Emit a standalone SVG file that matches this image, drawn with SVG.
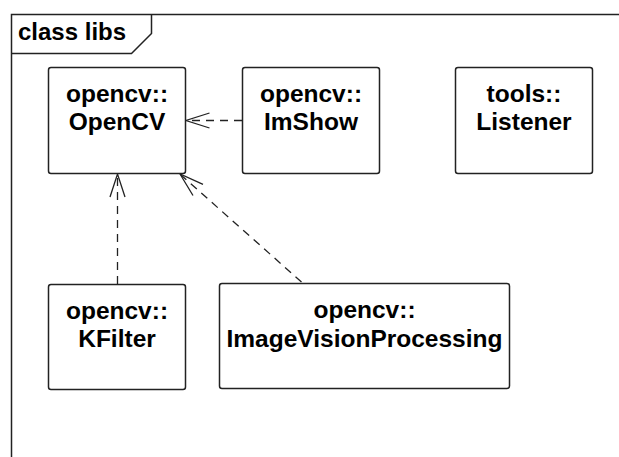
<svg xmlns="http://www.w3.org/2000/svg" width="619" height="457" viewBox="0 0 619 457">
<style>
.box{fill:#fff;stroke:#222;stroke-width:1.5}
.t{font-family:"Liberation Sans",Arial,sans-serif;font-weight:bold;font-size:24.5px;fill:#000;text-anchor:middle}
.dash{fill:none;stroke:#222;stroke-width:1.3;stroke-dasharray:8,6}
.head{fill:none;stroke:#222;stroke-width:1.3}
.frame{fill:none;stroke:#222;stroke-width:1.5}
</style>
<rect width="619" height="457" fill="#fff"/>
<g id="frame">
<path class="frame" d="M11.5,460 L11.5,14.5 L625,14.5"/>
<path class="frame" d="M11.5,53.5 L131.5,53.5 L151.5,33.5 L151.5,14.5"/>
<text x="18" y="40" font-family="'Liberation Sans',Arial,sans-serif" font-weight="bold" font-size="24" fill="#000">class libs</text>
</g>
<g id="connectors">
<path class="dash" d="M242,120.5 L187,120.5"/>
<path class="head" d="M209.5,113 L186,120.5 L209.5,128"/>
<path class="dash" d="M117.5,284 L117.5,175"/>
<path class="head" d="M110,197 L117.5,174 L125,197"/>
<path class="dash" d="M301.5,282 L181,175"/>
<path class="head" d="M193,195.5 L180,174 L203,184.3"/>
</g>
<g id="OpenCV">
<rect class="box" x="48.5" y="67.5" width="137" height="106" rx="2.5"/>
<text class="t" x="117" y="102">opencv::</text>
<text class="t" x="117" y="130">OpenCV</text>
</g>
<g id="ImShow">
<rect class="box" x="242.5" y="67.5" width="137" height="106" rx="2.5"/>
<text class="t" x="311" y="102">opencv::</text>
<text class="t" x="311" y="130">ImShow</text>
</g>
<g id="Listener">
<rect class="box" x="455.5" y="67.5" width="137" height="106" rx="2.5"/>
<text class="t" x="524" y="102">tools::</text>
<text class="t" x="524" y="130">Listener</text>
</g>
<g id="KFilter">
<rect class="box" x="48.5" y="284.5" width="137" height="105" rx="2.5"/>
<text class="t" x="117" y="319">opencv::</text>
<text class="t" x="117" y="347">KFilter</text>
</g>
<g id="ImageVisionProcessing">
<rect class="box" x="219.5" y="283.5" width="290" height="105" rx="2.5"/>
<text class="t" x="364.5" y="318">opencv::</text>
<text class="t" x="364.5" y="347">ImageVisionProcessing</text>
</g>
</svg>
